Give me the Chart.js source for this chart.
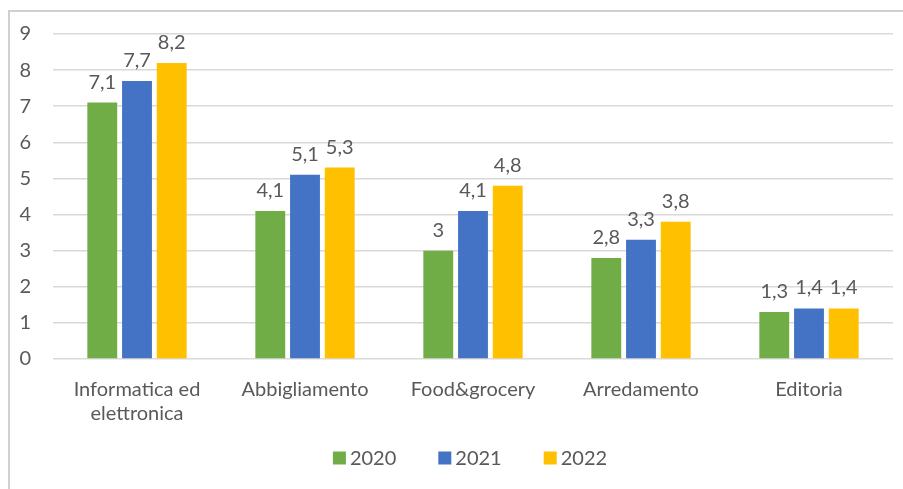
<!DOCTYPE html>
<html>
<head>
<meta charset="utf-8">
<script src="https://cdn.jsdelivr.net/npm/chart.js@4"></script>
<style>
  html, body { margin: 0; padding: 0; background: #fff; }
  #wrap { position: relative; width: 903px; height: 489px; overflow: hidden; }
  #frame { position: absolute; left: 8px; top: 10px; width: 1000px; height: 600px;
           border-top: 2px solid #d0d0d0; border-left: 2px solid #d0d0d0; }
  canvas { position: absolute; left: 0; top: 0; }
</style>
</head>
<body>
<div id="wrap">
  <div id="frame"></div>
  <canvas id="chart" width="903" height="489"></canvas>
</div>
<script>
const categories = [['Informatica ed', 'elettronica'], 'Abbigliamento', 'Food&grocery', 'Arredamento', 'Editoria'];
const years = ['2020', '2021', '2022'];
const values2020 = [7.1, 4.1, 3, 2.8, 1.3];
const values2021 = [7.7, 5.1, 4.1, 3.3, 1.4];
const values2022 = [8.2, 5.3, 4.8, 3.8, 1.4];
const colors = ['#70ad47', '#4472c4', '#ffc000'];

const fontFamily = 'Lato, "Open Sans", sans-serif';
const textColor = '#595959';

// scrive il valore sopra ogni barra, con la virgola decimale
const valueLabels = {
  id: 'valueLabels',
  afterDatasetsDraw(chart) {
    const ctx = chart.ctx;
    ctx.save();
    ctx.font = '20px ' + fontFamily;
    ctx.fillStyle = textColor;
    ctx.textAlign = 'center';
    ctx.textBaseline = 'alphabetic';
    chart.data.datasets.forEach((ds, i) => {
      chart.getDatasetMeta(i).data.forEach((bar, j) => {
        const txt = String(ds.data[j]).replace('.', ',');
        ctx.fillText(txt, bar.x, bar.y - 14);
      });
    });
    ctx.restore();
  }
};

// legenda in basso, centrata sotto l'area del grafico
const bottomLegend = {
  id: 'bottomLegend',
  afterDraw(chart) {
    const ctx = chart.ctx;
    const box = 13, gapText = 4, gapItem = 42;
    const y = 458;
    ctx.save();
    ctx.font = '20px ' + fontFamily;
    ctx.textBaseline = 'middle';
    const items = chart.data.datasets.map(ds => ({
      text: ds.label, color: ds.backgroundColor,
      w: box + gapText + ctx.measureText(ds.label).width
    }));
    const total = items.reduce((s, it) => s + it.w, 0) + gapItem * (items.length - 1);
    let x = (chart.chartArea.left + chart.chartArea.right) / 2 - 3 - total / 2;
    items.forEach(it => {
      ctx.fillStyle = it.color;
      ctx.fillRect(x, y - box / 2, box, box);
      ctx.fillStyle = textColor;
      ctx.fillText(it.text, x + box + gapText, y + 1);
      x += it.w + gapItem;
    });
    ctx.restore();
  }
};

let ctx = document.getElementById('chart').getContext('2d');
let chart = new Chart(ctx, {
  type: 'bar',
  data: {
    labels: categories,
    datasets: [
      { label: years[0], data: values2020, backgroundColor: colors[0] },
      { label: years[1], data: values2021, backgroundColor: colors[1] },
      { label: years[2], data: values2022, backgroundColor: colors[2] },
    ]
  },
  options: {
    responsive: false,
    animation: false,
    layout: { padding: { left: 16, right: 10, top: 20, bottom: 0 } },
    datasets: { bar: { categoryPercentage: 0.62, barPercentage: 0.86 } },
    scales: {
      x: {
        grid: { display: false },
        border: { display: false },
        ticks: { color: textColor, font: { family: fontFamily, size: 20, lineHeight: 1.2 }, padding: 11, maxRotation: 0 },
        afterFit(scale) { scale.height = 130; }
      },
      y: {
        min: 0,
        max: 9,
        ticks: { stepSize: 1, color: textColor, font: { family: fontFamily, size: 20 }, padding: 22 },
        grid: { color: '#d9d9d9', lineWidth: 1.5, drawTicks: false },
        border: { display: false },
        afterFit(scale) { scale.width = 37; }
      }
    },
    plugins: {
      tooltip: { enabled: false },
      legend: { display: false }
    }
  },
  plugins: [valueLabels, bottomLegend]
});
</script>
</body>
</html>
